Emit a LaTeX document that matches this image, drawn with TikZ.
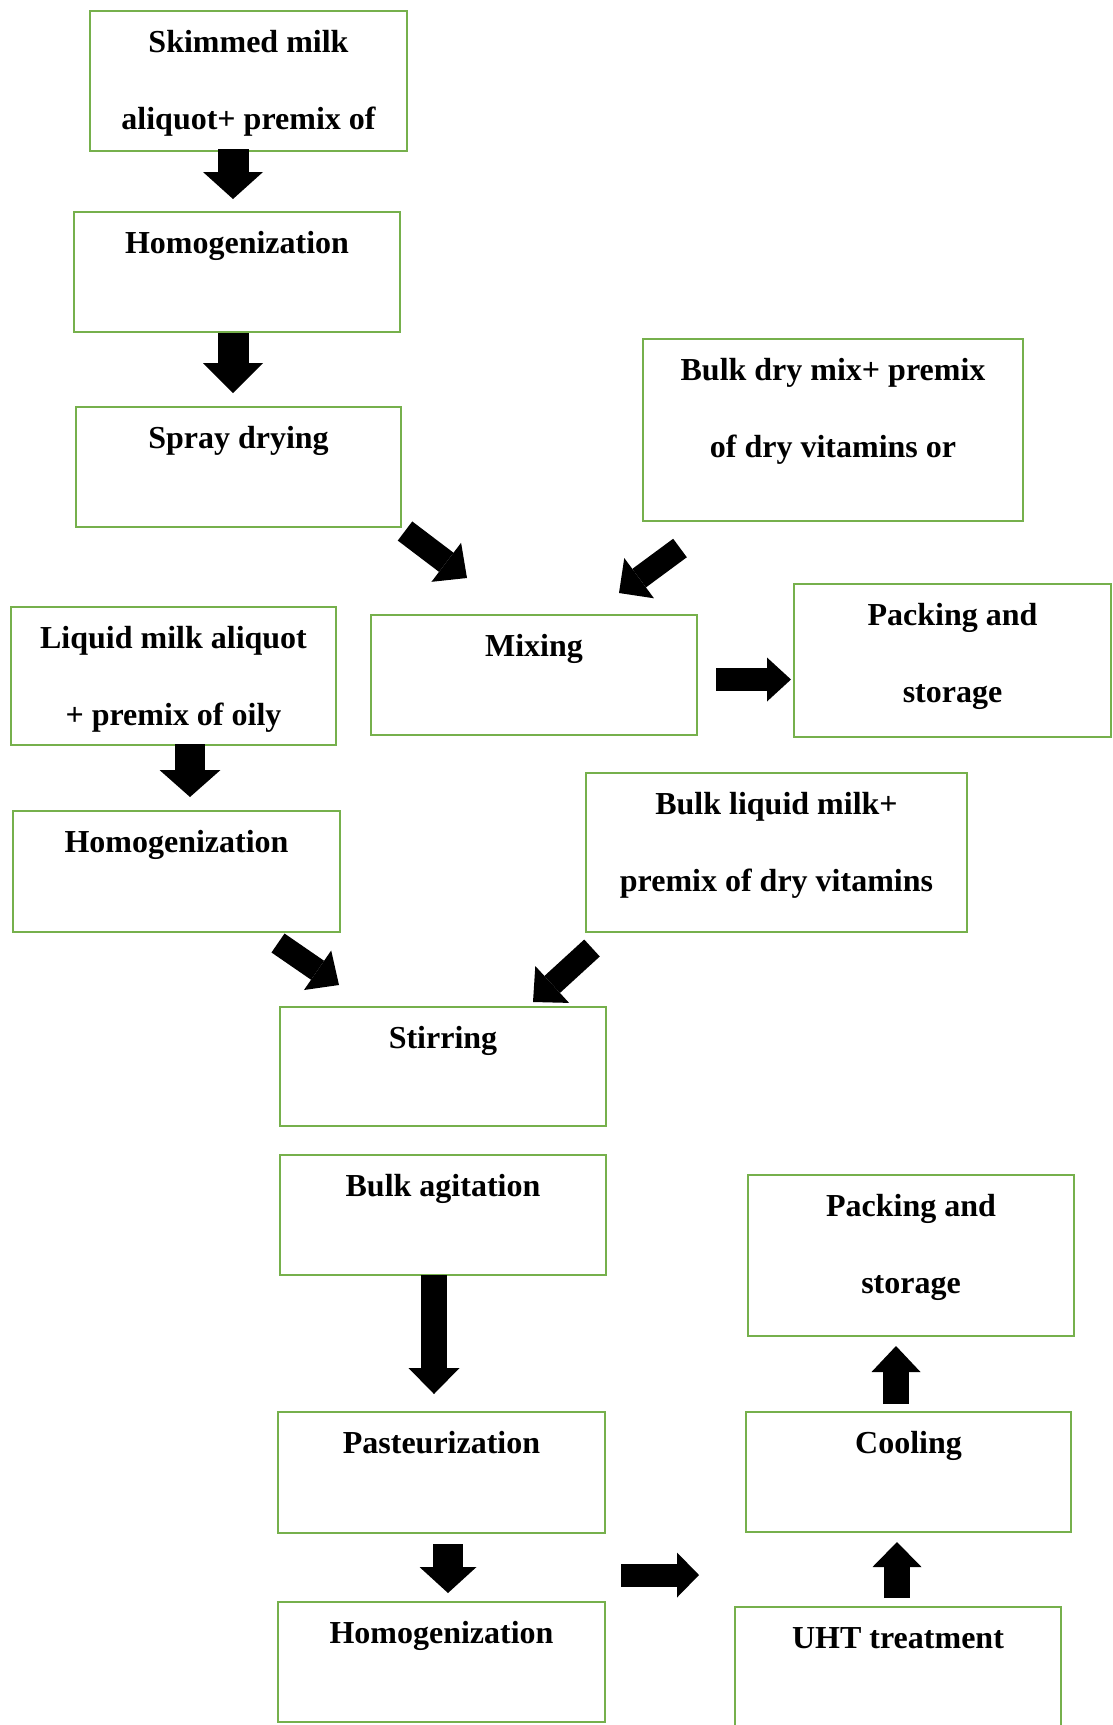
\documentclass[tikz,border=0pt]{standalone}
\usepackage{fontspec}
\setmainfont{Liberation Serif}
\usetikzlibrary{arrows.meta}
\definecolor{boxgreen}{RGB}{118,176,76}
\begin{document}
\begin{tikzpicture}[x=1pt,y=-1pt,
  font=\fontsize{32}{38}\selectfont\bfseries,
  box/.style={draw=boxgreen, line width=2pt, fill=white, rectangle, inner sep=0pt, anchor=north west},
  la/.style={anchor=base, yshift=-42pt, label distance=0pt, inner sep=0pt},
  lb/.style={anchor=base, yshift=-119pt, label distance=0pt, inner sep=0pt},
  blk/.style n args={3}{line width=#1pt, draw=black, line cap=butt,
     -{Triangle[width=#2pt,length=#3pt,line width=0pt]}}]
\useasboundingbox (0,0) rectangle (1112,1725);
\fill[white] (0,0) rectangle (1112,1725);

% boxes
\node[box, minimum width=317pt, minimum height=140pt,
  label={[la]north:Skimmed milk}, label={[lb]north:aliquot+ premix of}] (skim) at (89,10) {};
\node[box, minimum width=326pt, minimum height=120pt,
  label={[la]north:Homogenization}] (homogA) at (73,211) {};
\node[box, minimum width=325pt, minimum height=120pt,
  label={[la]north:Spray drying}] (spray) at (75,406) {};
\node[box, minimum width=380pt, minimum height=182pt,
  label={[la]north:Bulk dry mix+ premix}, label={[lb]north:of dry vitamins or}] (bulkdry) at (642,338) {};
\node[box, minimum width=326pt, minimum height=120pt,
  label={[la]north:Mixing}] (mixing) at (370,614) {};
\node[box, minimum width=317pt, minimum height=153pt,
  label={[la]north:Packing and}, label={[lb]north:storage}] (packA) at (793,583) {};
\node[box, minimum width=325pt, minimum height=138pt,
  label={[la]north:Liquid milk aliquot}, label={[lb]north:+ premix of oily}] (liquid) at (10,606) {};
\node[box, minimum width=327pt, minimum height=121pt,
  label={[la]north:Homogenization}] (homogB) at (12,810) {};
\node[box, minimum width=381pt, minimum height=159pt,
  label={[la]north:Bulk liquid milk+}, label={[lb]north:premix of dry vitamins}] (bulkliq) at (585,772) {};
\node[box, minimum width=326pt, minimum height=119pt,
  label={[la]north:Stirring}] (stir) at (279,1006) {};
\node[box, minimum width=326pt, minimum height=120pt,
  label={[la]north:Bulk agitation}] (agit) at (279,1154) {};
\node[box, minimum width=327pt, minimum height=121pt,
  label={[la]north:Pasteurization}] (past) at (277,1411) {};
\node[box, minimum width=327pt, minimum height=120pt,
  label={[la]north:Homogenization}] (homogC) at (277,1601) {};
\node[box, minimum width=326pt, minimum height=161pt,
  label={[la]north:Packing and}, label={[lb]north:storage}] (packB) at (747,1174) {};
\node[box, minimum width=325pt, minimum height=120pt,
  label={[la]north:Cooling}] (cool) at (745,1411) {};
\node[box, minimum width=326pt, minimum height=130pt,
  label={[la]north:UHT treatment}] (uht) at (734,1606) {};

% arrow end points
\coordinate (a1s) at (233,149);  \coordinate (a1e) at (233,199);
\coordinate (a2s) at (233,333);  \coordinate (a2e) at (233,393);
\coordinate (a3s) at (405,531);  \coordinate (a3e) at (467,578);
\coordinate (a4s) at (680,548);  \coordinate (a4e) at (619,593);
\coordinate (a5s) at (716,679.5); \coordinate (a5e) at (791,679.5);
\coordinate (a6s) at (190,744);  \coordinate (a6e) at (190,797);
\coordinate (a7s) at (278,943);  \coordinate (a7e) at (339,985);
\coordinate (a8s) at (592,948);  \coordinate (a8e) at (533,1002);
\coordinate (a9s) at (434,1275); \coordinate (a9e) at (434,1394);
\coordinate (a10s) at (448,1544); \coordinate (a10e) at (448,1593);
\coordinate (a11s) at (621,1575); \coordinate (a11e) at (699,1575);
\coordinate (a12s) at (897,1598); \coordinate (a12e) at (897,1542);
\coordinate (a13s) at (896,1404); \coordinate (a13e) at (896,1346);

% block arrows
\draw[blk={31}{60}{27}] (a1s) -- (a1e);
\draw[blk={31}{60}{30}] (a2s) -- (a2e);
\draw[blk={24}{49}{26}] (a3s) -- (a3e);
\draw[blk={23}{50}{25}] (a4s) -- (a4e);
\draw[blk={23}{44}{24}] (a5s) -- (a5e);
\draw[blk={30}{61}{27}] (a6s) -- (a6e);
\draw[blk={23}{48}{26}] (a7s) -- (a7e);
\draw[blk={23}{50}{26}] (a8s) -- (a8e);
\draw[blk={26}{51}{26}] (a9s) -- (a9e);
\draw[blk={30}{57}{26}] (a10s) -- (a10e);
\draw[blk={23}{45}{22}] (a11s) -- (a11e);
\draw[blk={26}{49}{25}] (a12s) -- (a12e);
\draw[blk={26}{49}{26}] (a13s) -- (a13e);
\end{tikzpicture}
\end{document}
